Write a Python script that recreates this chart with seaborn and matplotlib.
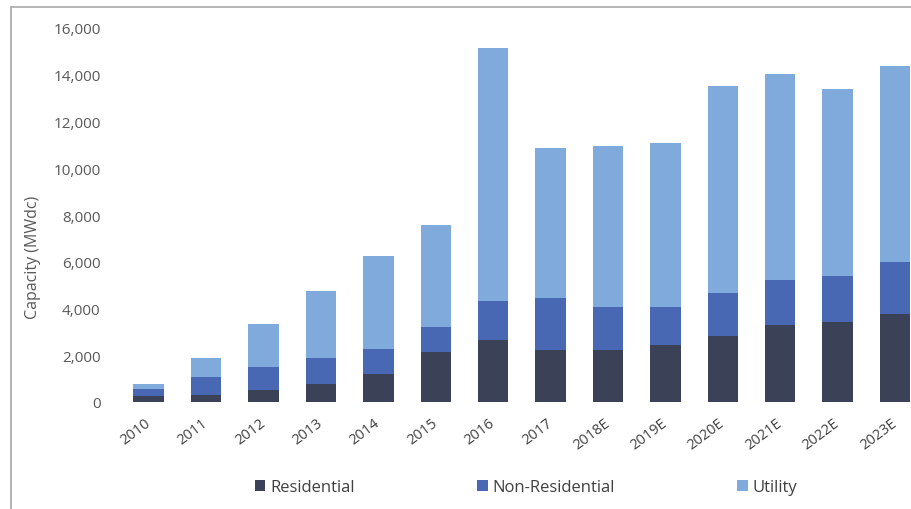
import numpy as np
import pandas as pd
import matplotlib
matplotlib.use("Agg")
import matplotlib.pyplot as plt
import seaborn as sns
from matplotlib.lines import Line2D
from matplotlib.patches import Patch
from matplotlib.ticker import FuncFormatter

years = ["2010", "2011", "2012", "2013", "2014", "2015", "2016", "2017",
         "2018E", "2019E", "2020E", "2021E", "2022E", "2023E"]
residential = [260, 310, 500, 790, 1210, 2140, 2640, 2210, 2210, 2420, 2820, 3310, 3420, 3780]
non_residential = [280, 760, 1010, 1090, 1040, 1070, 1700, 2240, 1860, 1650, 1850, 1900, 1970, 2210]
utility = [250, 810, 1810, 2870, 4000, 4350, 10820, 6420, 6890, 7010, 8850, 8830, 7980, 8400]
series_names = ["Residential", "Non-Residential", "Utility"]
yticks = [0, 2000, 4000, 6000, 8000, 10000, 12000, 14000, 16000]

colors = {"Residential": "#3b4257", "Non-Residential": "#4868b4", "Utility": "#80a9dc"}

sns.set_style("white")
plt.rcParams['font.family'] = ['Open Sans', 'DejaVu Sans']

df = pd.DataFrame({"year": years, "Residential": residential,
                   "Non-Residential": non_residential, "Utility": utility})
df["cum_res"] = df["Residential"]
df["cum_nonres"] = df["cum_res"] + df["Non-Residential"]
df["cum_util"] = df["cum_nonres"] + df["Utility"]

W, H = 912, 510
fig = plt.figure(figsize=(W / 100, H / 100), dpi=100)
ax = fig.add_axes([120 / W, (H - 403) / H, (W - 120) / W, (403 - 29) / H])

bw = 0.53
for col, name in [("cum_util", "Utility"), ("cum_nonres", "Non-Residential"), ("cum_res", "Residential")]:
    sns.barplot(data=df, x="year", y=col, color=colors[name], saturation=1,
                width=bw, ax=ax, linewidth=0, order=years)

ax.set_ylim(0, 16000)
ax.set_xlim(-0.5, 13.296)
ax.set_yticks(yticks)
ax.yaxis.set_major_formatter(FuncFormatter(lambda v, p: f"{int(v):,}"))
for s in ax.spines.values():
    s.set_visible(False)
ax.tick_params(axis="both", length=0, colors="#595959", labelsize=11)
ax.tick_params(axis="y", pad=14)
ax.tick_params(axis="x", pad=14)
ax.set_xlabel("")
ax.set_ylabel("")
for lbl in ax.get_xticklabels():
    lbl.set_rotation(37)
    lbl.set_ha("right")
    lbl.set_va("center")
    lbl.set_rotation_mode("anchor")
    lbl.set_fontsize(10.5)
    lbl.set_color("#404040")

fig.text(33 / W, 1 - 257 / H, "Capacity (MWdc)", rotation=90, ha="center", va="center",
         fontsize=11.5, color="#595959")

handles = [Patch(facecolor=colors[n], edgecolor="none", label=n) for n in series_names]
leg = fig.legend(handles=handles, loc="center", bbox_to_anchor=(526 / W, 1 - 488 / H),
                 ncol=3, frameon=False, fontsize=12, handlelength=0.65, handleheight=0.65,
                 handletextpad=0.3, columnspacing=7.3)
for t in leg.get_texts():
    t.set_color("#404040")

fig.add_artist(Line2D([11 / W, 1], [1 - 7.5 / H, 1 - 7.5 / H], transform=fig.transFigure,
                      color="#a8a8a8", linewidth=1.2))
fig.add_artist(Line2D([11 / W, 11 / W], [0, 1 - 7.5 / H], transform=fig.transFigure,
                      color="#a8a8a8", linewidth=1.2))

fig.savefig("out.png", dpi=100, facecolor="white")
